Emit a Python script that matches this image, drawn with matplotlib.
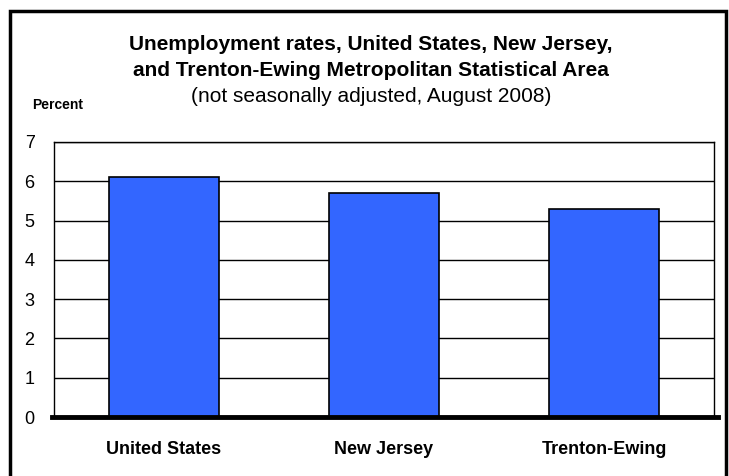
import matplotlib.pyplot as plt
from matplotlib.patches import Rectangle

# Data
areas = ["United States", "New Jersey", "Trenton-Ewing"]
rates = [6.1, 5.7, 5.3]
yticks = [0, 1, 2, 3, 4, 5, 6, 7]

W, H = 729, 476
fig = plt.figure(figsize=(W / 100, H / 100), dpi=100)
plt.rcParams['font.family'] = ['Liberation Sans', 'DejaVu Sans']

# Outer frame (runs off the right/bottom of the picture)
fig.patches.append(Rectangle((10 / W, -0.05), (716 / W), 1 - 11 / H + 0.05,
                             transform=fig.transFigure, fill=False,
                             edgecolor='black', linewidth=2.5))

ax = fig.add_axes([54 / W, 1 - 417 / H, 660 / W, 275 / H])
x = range(len(areas))
ax.bar(x, rates, width=0.5, color='#3366FF', edgecolor='black', linewidth=1.2, zorder=3)

ax.set_xlim(-0.5, 2.5)
ax.set_ylim(0, 7)
ax.set_yticks(yticks)
ax.set_yticklabels([str(t) for t in yticks], fontsize=13)
ax.set_xticks(list(x))
ax.set_xticklabels(areas, fontsize=13, fontweight='bold')
ax.tick_params(axis='y', length=0, pad=14)
ax.tick_params(axis='x', length=0, pad=17)
ax.yaxis.grid(True, color='black', linewidth=1, zorder=0)
for s in ['top', 'left', 'right']:
    ax.spines[s].set_linewidth(1)
ax.spines['bottom'].set_visible(False)
ax.axhline(0, color='black', linewidth=3.5, clip_on=False, zorder=4,
           xmin=-0.003, xmax=1.006)

fig.text(371 / W, 1 - 45 / H, "Unemployment rates, United States, New Jersey,",
         ha='center', va='center', fontsize=15, fontweight='bold')
fig.text(371 / W, 1 - 71 / H, "and Trenton-Ewing Metropolitan Statistical Area",
         ha='center', va='center', fontsize=15, fontweight='bold')
fig.text(371 / W, 1 - 97 / H, "(not seasonally adjusted, August 2008)",
         ha='center', va='center', fontsize=15)
fig.text(32 / W, 1 - 105 / H, "Percent", ha='left', va='center',
         fontsize=10, fontweight='bold')

fig.savefig("out.png", dpi=100, facecolor='white')
